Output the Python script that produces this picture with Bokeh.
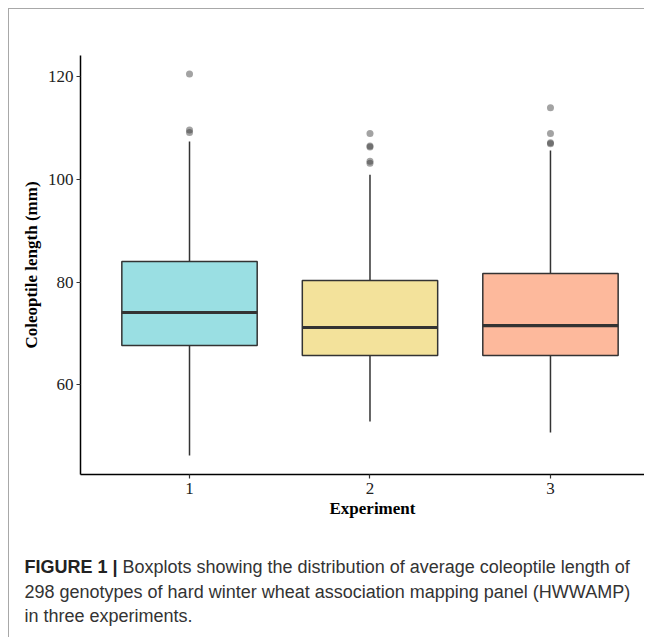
from bokeh.plotting import figure
from bokeh.models import Range1d, FixedTicker, Title, ColumnDataSource
from bokeh.layouts import column
from bokeh.core.properties import value
from bokeh.embed import file_html
from bokeh.resources import INLINE

# ---- data ----
experiments = [1, 2, 3]
q1 = [67.65, 65.7, 65.7]
median = [74.07, 71.15, 71.5]
q3 = [84.0, 80.3, 81.66]
whisker_low = [46.24, 52.86, 50.72]
whisker_high = [107.35, 100.9, 105.6]
box_colors = ["#9ADFE3", "#F3E29B", "#FDB99C"]
outlier_exp = [1, 1, 1, 2, 2, 2, 2, 2, 3, 3, 3, 3]
outlier_val = [120.5, 109.6, 109.1, 108.9, 106.5, 106.3, 103.5, 103.1, 113.9, 108.9, 107.1, 106.9]
y_ticks = [60, 80, 100, 120]
caption_bold = "FIGURE 1 |"
caption_lines = [
    "Boxplots showing the distribution of average coleoptile length of",
    "298 genotypes of hard winter wheat association mapping panel (HWWAMP)",
    "in three experiments.",
]

BOX_W = 0.75
SERIF = "Liberation Serif"
SANS = "Liberation Sans"

p = figure(frame_width=564, frame_height=419,
           x_range=Range1d(0.396, 3.521), y_range=Range1d(42.54, 124.09),
           output_backend="svg", toolbar_location=None,
           min_border_left=71, min_border_top=46, min_border_right=0, min_border_bottom=60)
p.grid.visible = False
p.outline_line_color = None
p.background_fill_color = "white"
p.border_fill_color = "white"

src = ColumnDataSource(dict(
    x=experiments, q1=q1, q3=q3, med=median, lo=whisker_low, hi=whisker_high,
    color=box_colors,
    x0=[e - BOX_W / 2 for e in experiments], x1=[e + BOX_W / 2 for e in experiments]))

p.segment(x0="x", y0="q3", x1="x", y1="hi", source=src, line_color="#333333", line_width=1.5)
p.segment(x0="x", y0="q1", x1="x", y1="lo", source=src, line_color="#333333", line_width=1.5)
p.vbar(x="x", width=BOX_W, bottom="q1", top="q3", source=src,
       fill_color="color", line_color="#333333", line_width=1.5)
p.segment(x0="x0", y0="med", x1="x1", y1="med", source=src, line_color="#333333", line_width=3.2)
p.scatter(x=outlier_exp, y=outlier_val, size=7, fill_color="#333333", fill_alpha=0.45,
          line_color=None)

for ax in (p.xaxis[0], p.yaxis[0]):
    ax.axis_line_color = "black"
    ax.axis_line_width = 1.5
    ax.major_tick_line_color = "#333333"
    ax.major_tick_line_width = 1.2
    ax.major_tick_out = 4
    ax.major_tick_in = 0
    ax.minor_tick_out = 0
    ax.minor_tick_in = 0
    ax.major_label_text_font = SERIF
    ax.major_label_text_font_size = "17px"
    ax.major_label_text_color = "#222222"
    ax.axis_label_text_font = SERIF
    ax.axis_label_text_font_size = "17px"
    ax.axis_label_text_font_style = "bold"
    ax.axis_label_text_color = "black"

p.xaxis.ticker = FixedTicker(ticks=experiments)
p.yaxis.ticker = FixedTicker(ticks=y_ticks)
p.xaxis.major_label_standoff = 4
p.yaxis.major_label_standoff = 3
p.yaxis.axis_label = "Coleoptile length (mm)"
p.yaxis.axis_label_standoff = 4

xt = Title(text="Experiment", align="left", offset=249, text_font=SERIF,
           text_font_size="17px", text_font_style="bold", text_color="black", standoff=0)
p.add_layout(xt, "below")

top = column(p, spacing=0,
             styles={"margin-left": "8px", "margin-top": "8px",
                     "border-top": "1px solid #a8a8a8", "border-left": "1px solid #a8a8a8"})

# caption as its own figure (pixel-unit ranges)
CAP_W, CAP_H = 635, 103
cap = figure(width=CAP_W, height=CAP_H, x_range=Range1d(0, CAP_W), y_range=Range1d(CAP_H, 0),
             output_backend="svg", toolbar_location=None,
             min_border=0, min_border_left=0, min_border_right=0,
             min_border_top=0, min_border_bottom=0)
cap.axis.visible = False
cap.grid.visible = False
cap.outline_line_color = None
cap.border_fill_color = "white"
cap.background_fill_color = "white"

cap.text(x=[15], y=[32], text=[caption_bold], text_font=value(SANS), text_font_style="bold",
         text_font_size="18px", text_color="#222222", text_baseline="alphabetic")
cap.text(x=[113, 15, 15], y=[32, 57, 81], text=caption_lines, text_font=value(SANS),
         text_font_size="18px", text_color="#333333", text_baseline="alphabetic")

bottom = column(cap, spacing=0,
                styles={"margin-left": "8px", "border-left": "1px solid #a8a8a8"})

open("out.html", "w").write(file_html([top, bottom], INLINE))
